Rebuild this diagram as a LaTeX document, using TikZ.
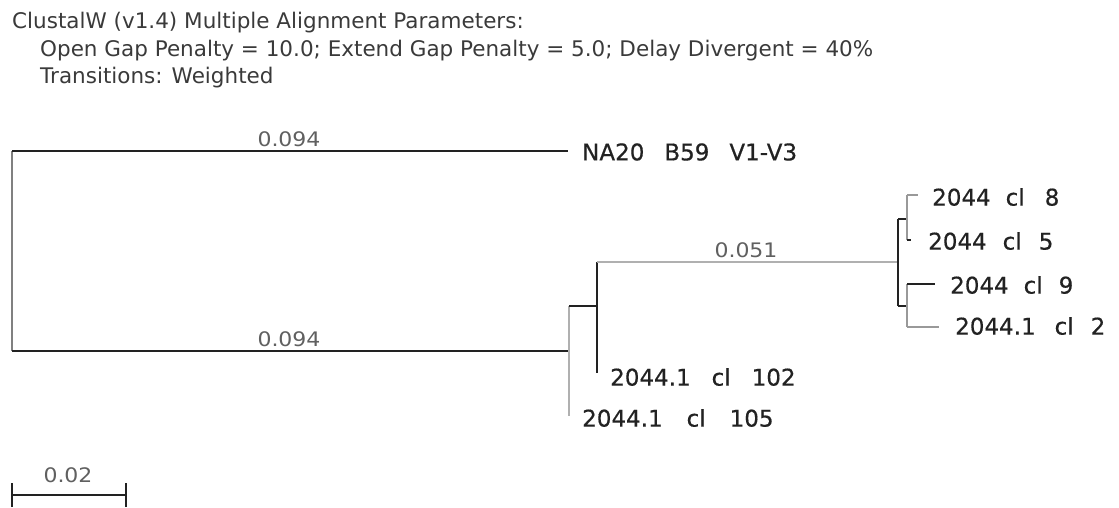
\documentclass[tikz,border=0pt]{standalone}
\usepackage{fontspec}
\setmainfont{DejaVu Sans}
\newfontfamily\leaffam[FakeBold=0.5]{DejaVu Sans}
\definecolor{ink}{HTML}{222222}
\definecolor{headink}{HTML}{3A3A3A}
\definecolor{numink}{HTML}{606060}
\definecolor{rootgray}{HTML}{808080}
\definecolor{lightgray}{HTML}{B0B0B0}
\definecolor{midgray}{HTML}{999999}
\newcommand{\gp}[1]{\hspace{#1pt}}
\newcommand{\wnum}[1]{\scalebox{1.1}[1]{#1}}
\tikzset{
  blk/.style={draw=ink, line width=2.2pt},
  gry/.style={draw=lightgray, line width=2.2pt},
  mgry/.style={draw=midgray, line width=2pt},
  rgry/.style={draw=rootgray, line width=2.4pt},
  leaf/.style={anchor=west, inner sep=0pt, text=ink, font=\leaffam\fontsize{23}{27}\selectfont},
  head/.style={anchor=base west, inner sep=0pt, text=headink, font=\fontsize{21.5}{26}\selectfont},
  num/.style={inner sep=0pt, text=numink, font=\fontsize{20}{24}\selectfont},
}
\begin{document}
\begin{tikzpicture}[x=1pt, y=-1pt]
\useasboundingbox (0,0) rectangle (1119,508);
% header
\node[head] (h1) at (12,29) {ClustalW (v1.4) Multiple Alignment Parameters:};
\node[head] (h2) at (40,57) {Open Gap Penalty = 10.0; Extend Gap Penalty = 5.0; Delay Divergent = 40\%};
\node[head] (h3) at (40,84) {Transitions: Weighted};
% tree vertices
\coordinate (Rt) at (12,151);
\coordinate (Rb) at (12,351);
\coordinate (Lna) at (568,151);
\coordinate (A) at (569,351);
\coordinate (At) at (569,306);
\coordinate (Ab) at (569,416);
\coordinate (B) at (597,306);
\coordinate (Bt) at (597,262);
\coordinate (Bb) at (597,373);
\coordinate (C) at (898,262);
\coordinate (Ct) at (898,219);
\coordinate (Cb) at (898,306);
\coordinate (D) at (907,219);
\coordinate (Dt) at (907,195);
\coordinate (Db) at (907,240);
\coordinate (E) at (907,306);
\coordinate (Et) at (907,284);
\coordinate (Eb) at (907,327);
\coordinate (L8) at (918,195);
\coordinate (L5) at (911,240);
\coordinate (L9) at (935,284);
\coordinate (L2) at (939,327);
% branches
\draw[rgry] (Rt) -- (Rb);
\draw[blk] (Rt) -- (Lna);
\draw[blk] (Rb) -- (A);
\draw[gry] (At) -- (Ab);
\draw[blk] (At) -- (B);
\draw[blk] (Bt) -- (Bb);
\draw[gry] (Bt) -- (C);
\draw[blk] (Ct) -- (Cb);
\draw[blk] (Ct) -- (D);
\draw[blk] (Cb) -- (E);
\draw[mgry] (Dt) -- (Db);
\draw[mgry] (Et) -- (Eb);
\draw[mgry] (Dt) -- (L8);
\draw[blk] (Db) -- (L5);
\draw[blk] (Et) -- (L9);
\draw[mgry] (Eb) -- (L2);
% branch length labels
\node[num] (n1) at (289,139) {\wnum{0.094}};
\node[num] (n2) at (289,339) {\wnum{0.094}};
\node[num] (n3) at (746,250) {\wnum{0.051}};
% leaf labels
\node[leaf] (tNA) at (582,152) {NA20\gp{20}B59\gp{20}V1-V3};
\node[leaf] (t8) at (932,197) {2044\gp{15}cl\gp{20}8};
\node[leaf] (t5) at (928,241) {2044\gp{16}cl\gp{17}5};
\node[leaf] (t9) at (950,285) {2044\gp{15}cl\gp{16}9};
\node[leaf] (t2) at (955,326) {2044.1\gp{19}cl\gp{17}2};
\node[leaf] (t102) at (610,377) {2044.1\gp{21}cl\gp{21}102};
\node[leaf] (t105) at (582,418) {2044.1\gp{24}cl\gp{24}105};
% scale bar
\coordinate (s1) at (12,495);
\coordinate (s2) at (126,495);
\draw[blk] (s1) -- (s2);
\draw[blk] ([yshift=-12pt]s1) -- ([yshift=12pt]s1);
\draw[blk] ([yshift=-12pt]s2) -- ([yshift=12pt]s2);
\node[num] (sl) at (68,475) {\wnum{0.02}};
\end{tikzpicture}
\end{document}
